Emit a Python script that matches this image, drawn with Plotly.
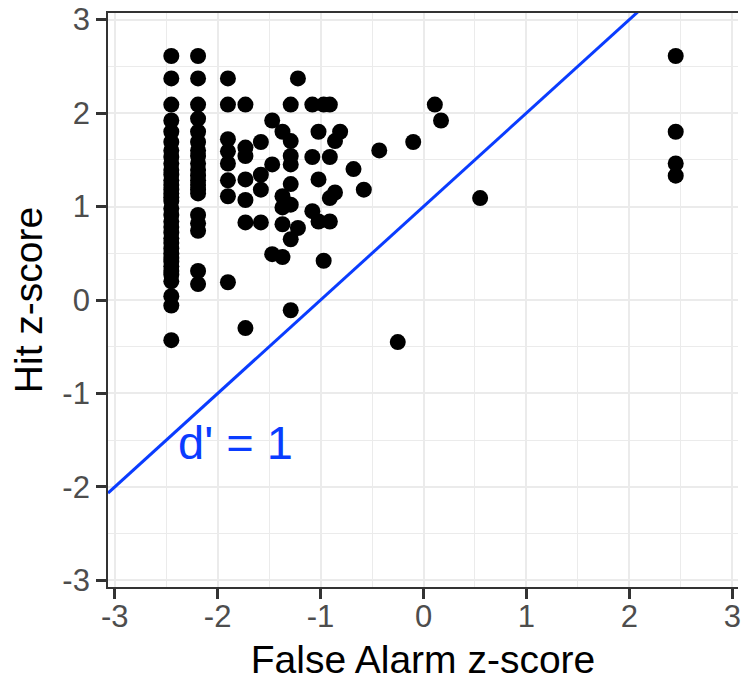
import plotly.graph_objects as go

# Signal-detection summary: one point per participant (false-alarm z vs hit z)
fa_col_a = -2.45
hit_col_a = [2.61, 2.37, 2.09, 1.92, 1.80, 1.69, 1.60, 1.53, 1.46, 1.39, 1.34,
             1.28, 1.23, 1.18, 1.14, 1.10, 1.06, 0.98, 0.91, 0.84, 0.78, 0.72,
             0.66, 0.61, 0.55, 0.50, 0.45, 0.41, 0.36, 0.31, 0.27, 0.20, 0.04,
             -0.06, -0.43]

fa_col_b = -2.19
hit_col_b = [2.61, 2.37, 2.09, 1.94, 1.80, 1.69, 1.60, 1.54, 1.46, 1.39, 1.33,
             1.28, 1.23, 1.18, 1.14, 0.91, 0.82, 0.74, 0.31, 0.17]

fa_col_c = -1.90
hit_col_c = [2.37, 2.09, 1.72, 1.59, 1.46, 1.28, 1.11, 0.19]

fa_col_d = -1.73
hit_col_d = [2.09, 1.63, 1.54, 1.29, 1.07, 0.83, -0.30]

fa_col_e = 2.45
hit_col_e = [2.61, 1.80, 1.46, 1.33]

# Remaining participants (false-alarm z, hit z)
fa_other = [-1.58, -1.58, -1.58, -1.58,
            -1.47, -1.47, -1.47,
            -1.37, -1.37, -1.37, -1.37, -1.37,
            -1.29, -1.29, -1.29, -1.29, -1.29, -1.29, -1.29, -1.29,
            -1.22, -1.22,
            -1.08, -1.08, -1.08,
            -1.02, -1.02, -1.02,
            -0.97, -0.97,
            -0.91, -0.91, -0.91, -0.91,
            -0.81, -0.86, -0.86,
            -0.68, -0.58, -0.43, -0.25, -0.10, 0.11, 0.17, 0.55]
hit_other = [1.69, 1.34, 1.18, 0.83,
             1.92, 1.45, 0.49,
             1.80, 1.11, 0.99, 0.81, 0.46,
             2.09, 1.70, 1.54, 1.45, 1.24, 1.02, 0.65, -0.11,
             2.37, 0.77,
             2.09, 1.53, 0.95,
             1.80, 1.29, 0.84,
             2.09, 0.42,
             2.09, 1.53, 1.09, 0.84,
             1.80, 1.70, 1.15,
             1.40, 1.18, 1.60, -0.45, 1.69, 2.09, 1.92, 1.09]

fa_z = ([fa_col_a] * len(hit_col_a) + [fa_col_b] * len(hit_col_b)
        + [fa_col_c] * len(hit_col_c) + [fa_col_d] * len(hit_col_d)
        + [fa_col_e] * len(hit_col_e) + fa_other)
hit_z = hit_col_a + hit_col_b + hit_col_c + hit_col_d + hit_col_e + hit_other

# Reference line of constant sensitivity: hit z = fa z + d'
d_prime = 1
x_range = [-3.065, 3.055]
y_range = [-3.07, 3.07]
tick_vals = [-3, -2, -1, 0, 1, 2, 3]
tick_text = ["-3", "-2", "-1", "0", "1", "2", "3"]

line_x = [x_range[0], x_range[1]]
line_y = [v + d_prime for v in line_x]

FONT = "Liberation Sans, Arial, sans-serif"
BLUE = "#0A3CFF"
GRID = "#EBEBEB"
FRAME = "#333333"

fig = go.Figure()
fig.add_trace(go.Scatter(
    x=fa_z, y=hit_z, mode="markers",
    marker=dict(size=16, color="black", line=dict(width=0)),
    showlegend=False, hoverinfo="skip",
))
fig.add_trace(go.Scatter(
    x=line_x, y=line_y, mode="lines",
    line=dict(color=BLUE, width=3),
    showlegend=False, hoverinfo="skip",
))

fig.add_annotation(
    x=-1.83, y=-1.52, xref="x", yref="y",
    text="d' = 1", showarrow=False,
    font=dict(family=FONT, size=47, color=BLUE),
    xanchor="center", yanchor="middle",
)

axis_common = dict(
    tickmode="array", tickvals=tick_vals, ticktext=tick_text,
    showgrid=True, gridcolor=GRID, gridwidth=2.4,
    zeroline=False,
    ticks="outside", ticklen=10, tickwidth=2.6, tickcolor=FRAME,
    tickfont=dict(family=FONT, size=31, color="#4D4D4D"),
    ticklabeloverflow="allow",
    showline=True, linecolor=FRAME, linewidth=1.8,
    minor=dict(tickvals=[-2.5, -1.5, -0.5, 0.5, 1.5, 2.5], showgrid=True,
               gridcolor=GRID, gridwidth=1.3, ticks=""),
)

fig.update_xaxes(
    range=x_range, mirror=True, ticklabelstandoff=-9,
    title=dict(text="False Alarm z-score", standoff=14,
               font=dict(family=FONT, size=39, color="black")),
    **axis_common,
)
fig.update_yaxes(
    range=y_range, mirror=False,
    title=dict(text="Hit z-score", standoff=8,
               font=dict(family=FONT, size=39, color="black")),
    **axis_common,
)

fig.update_layout(
    width=741, height=681,
    margin=dict(l=108, t=13, r=0, b=94),
    plot_bgcolor="white", paper_bgcolor="white",
    font=dict(family=FONT),
)

fig.write_html("out.html")
